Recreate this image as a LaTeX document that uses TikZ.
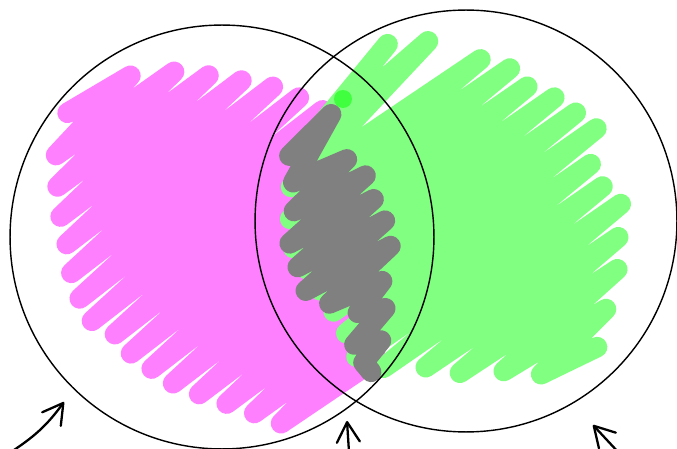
\documentclass[tikz,border=0pt]{standalone}
\usepackage{tikz}
\usetikzlibrary{arrows.meta}
\definecolor{scribA}{HTML}{FF80FF}
\definecolor{scribB}{HTML}{80FF80}
\definecolor{scribAB}{HTML}{808080}

\begin{document}
\begin{tikzpicture}[
    x=0.02cm, y=-0.02cm,
    scrib/.style={line width=0.41cm, line cap=round, line join=round},
    ring/.style={draw, circle, minimum size=#1, inner sep=0pt, line width=0.8pt},
    arr/.style={-{Straight Barb[length=4mm, width=4.6mm, round]}, line width=1.3pt, line cap=round},
  ]
  \useasboundingbox (0,0) rectangle (677,449);

  % Set A: magenta scribble
  \begin{scope}[shift={(215,245)}, rotate=40]
    \draw[scrib, scribA] (-28,-196)
      \foreach \v/\a/\b in {-196/-28/44, -171/-64/80, -146/-83/104, -121/-100/126,
        -96/-113/146, -71/-128/159, -46/-138/169, -21/-143/172, 4/-134/168,
        29/-134/163, 54/-128/157, 79/-121/142, 104/-108/128, 129/-93/108,
        154/-78/79, 179/-64/51}
      { -- (\a,\v) -- (\b,\v+12) };
  \end{scope}

  % Set B: green scribble
  \begin{scope}[shift={(460,220)}, rotate=37]
    \draw[scrib, scribB] (-21,-167) -- (48,-184) -- (-93,-150) -- (82,-162)
      \foreach \v/\a/\b in {-128/-115/113, -103/-135/131, -78/-150/134,
        -53/-152/149, -28/-154/157, -3/-156/164, 22/-159/138, 47/-165/134,
        72/-150/138, 97/-116/116, 122/-92/96, 147/-56/63, 172/-28/33}
      { -- (\a,\v) -- (\b,\v+12) };
  \end{scope}

  % Intersection: gray scribble
  \begin{scope}[shift={(340,235)}, rotate=35]
    \draw[scrib, scribAB] (4,-94) -- (62,-104)
      \foreach \v/\a/\b in {-70/-8/49, -46/-24/55, -22/-46/48, 2/-53/45,
        26/-60/35, 50/-48/8, 74/-30/-5, 98/-51/-27, 118/-54/-53}
      { -- (\a,\v) -- (\b,\v+12) };
  \end{scope}
  \fill[green, opacity=0.5] (343,99) circle (0.18cm);

  % Sets
  \node[ring=8.48cm] (setA) at (222,237) {};
  \node[ring=8.44cm] (setB) at (466,221) {};

  % Pointers
  \coordinate (tailA) at (14,450);
  \coordinate (tipA) at (64,402);
  \coordinate (tailM) at (349,452);
  \coordinate (tipM) at (347,421);
  \coordinate (tailB) at (619,453);
  \coordinate (tipB) at (593,425);
  \draw[arr] (tailA) to[bend right=10] (tipA);
  \draw[arr] (tailM) -- (tipM);
  \draw[arr] (tailB) -- (tipB);

\end{tikzpicture}
\end{document}
